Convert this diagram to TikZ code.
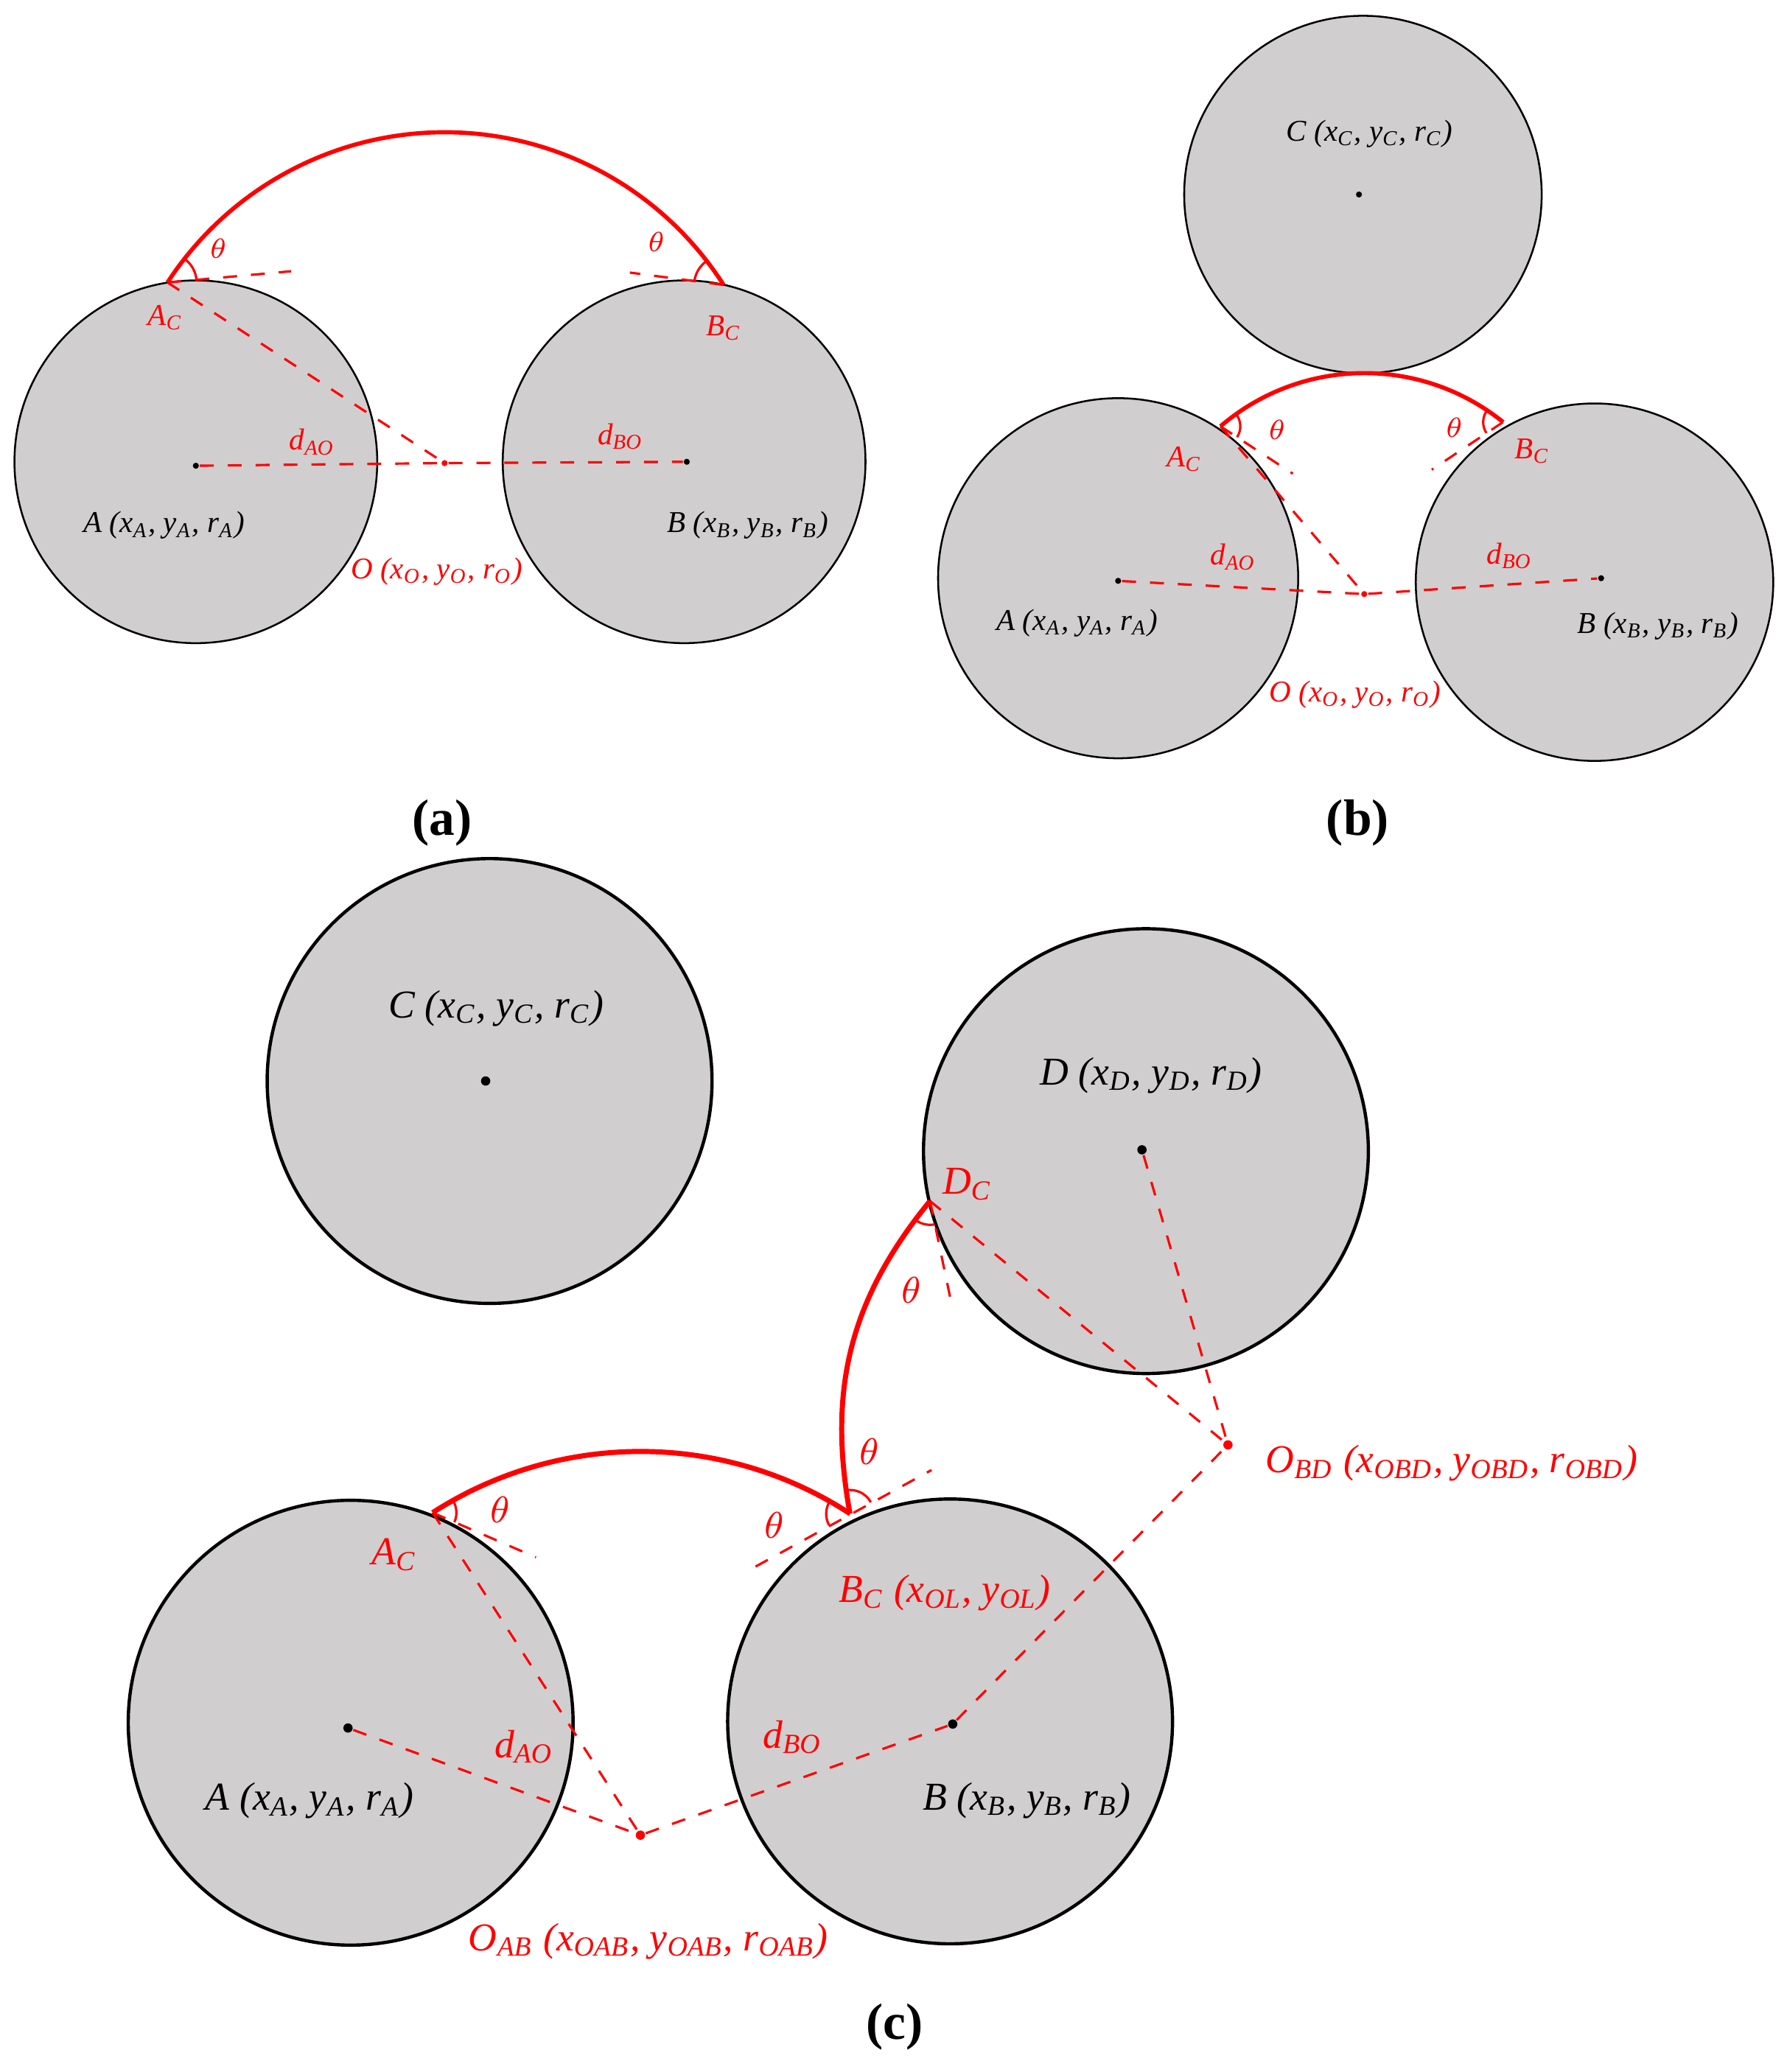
\documentclass[tikz,border=0pt]{standalone}
\usepackage{fontspec}
\setmainfont{Liberation Serif}
\usetikzlibrary{calc}
\begin{document}
\begin{tikzpicture}[x=0.01cm,y=0.01cm,
  disk/.style={fill=cgray,draw=black,line width=0.4pt},
  diskc/.style={fill=cgray,draw=black,line width=0.7pt},
  dot/.style={circle,fill=black,inner sep=0pt,minimum size=1.3pt},
  rdot/.style={circle,fill=red,inner sep=0pt,minimum size=1.3pt},
  rdash/.style={red,dashed,line width=0.5pt},
  rarc/.style={red,line width=0.9pt},
  ang/.style={red,line width=0.5pt},
  lb/.style={font=\fontsize{6.5}{7}\selectfont\itshape,inner sep=0pt},
  lbc/.style={font=\fontsize{8.5}{9}\selectfont\itshape,inner sep=0pt},
  rl/.style={text=red}]
\definecolor{cgray}{RGB}{208,206,207}
\useasboundingbox (0,0) rectangle (1350,-1566);
% ---------- (a)
\draw[disk] (148,-349) circle[radius=1.37cm];
\draw[disk] (517,-349) circle[radius=1.37cm];
\node[dot] (aA) at (148,-352) {};
\node[dot] (aB) at (519,-349) {};
\node[rdot] (aO) at (336,-350) {};
\coordinate (aAC) at ($(336,-350)+(146.9:250)$);
\coordinate (aBC) at ($(336,-350)+(32.6:250)$);
\coordinate (aAt) at (220,-205);
\coordinate (aBt) at (476,-206);
\draw[rarc] (aAC) arc[start angle=146.9,end angle=32.6,radius=2.5cm];
\draw[rdash] (aAC) -- (aO);
\draw[rdash] (aA) -- (aO) -- (aB);
\draw[rdash] (aAC) -- (aAt);
\draw[rdash] (aBC) -- (aBt);
\draw[ang] ($(aAC)+(56.9:22)$) arc[start angle=56.9,end angle=5,radius=0.22cm];
\draw[ang] ($(aBC)+(122.6:22)$) arc[start angle=122.6,end angle=172.8,radius=0.22cm];
\node[lb,rl] at (165,-188) {$\theta$};
\node[lb,rl] at (496,-183) {$\theta$};
\node[lb,rl] at (125,-240) {A\textsubscript{C}};
\node[lb,rl] at (547,-248) {B\textsubscript{C}};
\node[lb,rl] at (236,-334) {d\textsubscript{AO}};
\node[lb,rl] at (469,-330) {d\textsubscript{BO}};
\node[lb] at (124,-397) {A (x\textsubscript{A}, y\textsubscript{A}, r\textsubscript{A})};
\node[lb] at (565,-397) {B (x\textsubscript{B}, y\textsubscript{B}, r\textsubscript{B})};
\node[lb,rl] at (330,-432) {O (x\textsubscript{O}, y\textsubscript{O}, r\textsubscript{O})};
\node[font=\fontsize{11}{12}\selectfont\bfseries] at (334,-622) {(a)};
% ---------- (b)
\draw[disk] (1030,-147) circle[radius=1.35cm];
\draw[disk] (845,-437) circle[radius=1.36cm];
\draw[disk] (1205,-440) circle[radius=1.35cm];
\node[dot] (bC) at (1027,-147) {};
\node[dot] (bA) at (845,-439) {};
\node[dot] (bB) at (1210,-437) {};
\node[rdot] (bO) at (1031,-449) {};
\coordinate (bAC) at ($(1031,-449)+(130.6:167)$);
\coordinate (bBC) at ($(1031,-449)+(51.1:167)$);
\coordinate (bAt) at (977,-358);
\coordinate (bBt) at (1082,-355);
\draw[rarc] (bAC) arc[start angle=130.6,end angle=51.1,radius=1.67cm];
\draw[rdash] (bAC) -- (bO);
\draw[rdash] (bA) -- (bO) -- (bB);
\draw[rdash] (bAC) -- (bAt);
\draw[rdash] (bBC) -- (bBt);
\draw[ang] ($(bAC)+(40.6:15)$) arc[start angle=40.6,end angle=-33,radius=0.15cm];
\draw[ang] ($(bBC)+(141.1:15)$) arc[start angle=141.1,end angle=213.4,radius=0.15cm];
\node[lb,rl] at (965,-325) {$\theta$};
\node[lb,rl] at (1099,-323) {$\theta$};
\node[lb] at (1035,-101) {C (x\textsubscript{C}, y\textsubscript{C}, r\textsubscript{C})};
\node[lb,rl] at (895,-347) {A\textsubscript{C}};
\node[lb,rl] at (1158,-341) {B\textsubscript{C}};
\node[lb,rl] at (932,-421) {d\textsubscript{AO}};
\node[lb,rl] at (1141,-420) {d\textsubscript{BO}};
\node[lb] at (814,-471) {A (x\textsubscript{A}, y\textsubscript{A}, r\textsubscript{A})};
\node[lb] at (1253,-473) {B (x\textsubscript{B}, y\textsubscript{B}, r\textsubscript{B})};
\node[lb,rl] at (1024,-525) {O (x\textsubscript{O}, y\textsubscript{O}, r\textsubscript{O})};
\node[font=\fontsize{11}{12}\selectfont\bfseries] at (1026,-622) {(b)};
% ---------- (c)
\draw[diskc] (370,-817) circle[radius=1.68cm];
\draw[diskc] (866,-870) circle[radius=1.68cm];
\draw[diskc] (265,-1302) circle[radius=1.68cm];
\draw[diskc] (718,-1301) circle[radius=1.68cm];
\node[dot,minimum size=2pt] (cC) at (367,-817) {};
\node[dot,minimum size=2pt] (cD) at (863,-869) {};
\node[dot,minimum size=2pt] (cA) at (263,-1306) {};
\node[dot,minimum size=2pt] (cB) at (720,-1303) {};
\node[rdot,minimum size=2pt] (cOAB) at (484,-1387) {};
\node[rdot,minimum size=2pt] (cOBD) at (928,-1092) {};
\coordinate (cAC) at ($(484,-1387)+(122.8:290)$);
\coordinate (cBC) at ($(484,-1387)+(56.9:290)$);
\coordinate (cDC) at ($(928,-1092)+(140.7:291)$);
\coordinate (cAt) at (405,-1177);
\coordinate (cB1) at (571,-1184);
\coordinate (cB2) at (704,-1111);
\coordinate (cDt) at (719,-985);
\draw[rarc,line width=1.1pt] (cAC) arc[start angle=122.8,end angle=56.9,radius=2.9cm];
\draw[rarc,line width=1.1pt] (cBC) to[out=100.3,in=230.7] (cDC);
\draw[rdash] (cAC) -- (cOAB);
\draw[rdash] (cA) -- (cOAB) -- (cB) -- (cOBD);
\draw[rdash] (cDC) -- (cOBD);
\draw[rdash] (cD) -- (cOBD);
\draw[rdash] (cAC) -- (cAt);
\draw[rdash] (cB1) -- (cB2);
\draw[rdash] (cDC) -- (cDt);
\draw[ang] ($(cAC)+(32.8:18)$) arc[start angle=32.8,end angle=-23.6,radius=0.18cm];
\draw[ang] ($(cBC)+(146.9:18)$) arc[start angle=146.9,end angle=208.8,radius=0.18cm];
\draw[ang] ($(cBC)+(100.3:18)$) arc[start angle=100.3,end angle=28.8,radius=0.18cm];
\draw[ang] ($(cDC)+(230.7:18)$) arc[start angle=230.7,end angle=281.7,radius=0.18cm];
\node[lbc,rl] at (378,-1141) {$\theta$};
\node[lbc,rl] at (585,-1153) {$\theta$};
\node[lbc,rl] at (657,-1097) {$\theta$};
\node[lbc,rl] at (689,-975) {$\theta$};
\node[lbc,rl] at (298,-1175) {A\textsubscript{C}};
\node[lbc,rl] at (714,-1204) {B\textsubscript{C} (x\textsubscript{OL}, y\textsubscript{OL})};
\node[lbc,rl] at (731,-895) {D\textsubscript{C}};
\node[lbc,rl] at (396,-1320) {d\textsubscript{AO}};
\node[lbc,rl] at (599,-1313) {d\textsubscript{BO}};
\node[lbc] at (234,-1361) {A (x\textsubscript{A}, y\textsubscript{A}, r\textsubscript{A})};
\node[lbc] at (776,-1361) {B (x\textsubscript{B}, y\textsubscript{B}, r\textsubscript{B})};
\node[lbc] at (375,-762) {C (x\textsubscript{C}, y\textsubscript{C}, r\textsubscript{C})};
\node[lbc] at (870,-813) {D (x\textsubscript{D}, y\textsubscript{D}, r\textsubscript{D})};
\node[lbc,rl] at (490,-1467) {O\textsubscript{AB} (x\textsubscript{OAB}, y\textsubscript{OAB}, r\textsubscript{OAB})};
\node[lbc,rl] at (1097,-1106) {O\textsubscript{BD} (x\textsubscript{OBD}, y\textsubscript{OBD}, r\textsubscript{OBD})};
\node[font=\fontsize{11}{12}\selectfont\bfseries] at (676,-1532) {(c)};
\end{tikzpicture}
\end{document}
